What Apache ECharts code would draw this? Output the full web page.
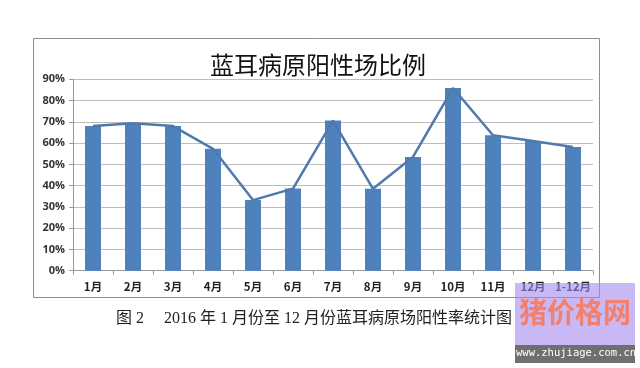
<!DOCTYPE html>
<html>
<head>
<meta charset="utf-8">
<script src="https://cdn.jsdelivr.net/npm/echarts@6/dist/echarts.min.js"></script>
<style>
html,body{margin:0;padding:0;background:#fff;}
#c{width:640px;height:368px;}
</style>
</head>
<body>
<div id="c"></div>
<script>
var categories = ['1月','2月','3月','4月','5月','6月','7月','8月','9月','10月','11月','12月','1-12月'];
var barValues = [68, 69.3, 68, 57.3, 33.2, 38.6, 70.6, 38.5, 53.5, 85.9, 63.7, 61, 58.2];
var lineValues = [68, 69.3, 68, 57.3, 33.2, 38.6, 70.6, 38.5, 53.5, 85.9, 63.7, 61, 58.2];
var yTicks = [0,10,20,30,40,50,60,70,80,90];
var titleText = '蓝耳病原阳性场比例';
var captionText = '图 2\u3000 2016 年 1 月份至 12 月份蓝耳病原场阳性率统计图';

var chart = echarts.init(document.getElementById('c'), null, {renderer:'canvas'});
chart.setOption({
  animation:false,
  backgroundColor:'#fff',
  title:{
    text:titleText, left:313, top:48, textAlign:'center',
    textStyle:{fontFamily:'Noto Sans CJK SC', fontSize:24, fontWeight:'normal', color:'#111'}
  },
  grid:{left:73, right:47, top:79.3, bottom:97.3},
  xAxis:{
    type:'category', data:categories, boundaryGap:true,
    axisLine:{show:true, lineStyle:{color:'#999', width:1}},
    axisTick:{show:true, alignWithLabel:false, length:4, inside:false, lineStyle:{color:'#999'}},
    axisLabel:{margin:10, fontFamily:'Noto Sans CJK SC', fontWeight:'bold', fontSize:11.5, color:'#222', interval:0}
  },
  yAxis:{
    type:'value', min:yTicks[0], max:yTicks[yTicks.length-1], interval:10,
    axisLine:{show:true, lineStyle:{color:'#999', width:1}},
    axisTick:{show:true, length:4, lineStyle:{color:'#999'}},
    splitLine:{show:true, lineStyle:{color:'#bdbdbd', width:1}},
    axisLabel:{margin:8, formatter:'{value}%', fontFamily:'Open Sans', fontWeight:'bold', fontSize:11, color:'#333'}
  },
  series:[
    {type:'bar', data:barValues, barWidth:16, itemStyle:{color:'#4f81bd'}, z:2},
    {type:'line', data:lineValues, symbol:'none', lineStyle:{color:'#5079ad', width:2.5}, z:3}
  ],
  graphic:[
    {type:'rect', shape:{x:33.5, y:38.5, width:566, height:259}, style:{fill:'none', stroke:'#8c8c8c', lineWidth:1}, z:0, silent:true},
    {type:'text', left:116, top:311, style:{text:captionText, font:'16px "Liberation Serif", "Noto Sans CJK SC"', fill:'#222'}, z:5},
    {type:'rect', shape:{x:515, y:283, width:120, height:62}, style:{fill:'rgba(163,137,238,0.6)'}, z:10},
    {type:'text', left:519, top:298, style:{text:'猪价格网', font:'bold 28px "Noto Sans CJK SC"', fill:'#f4806c'}, z:11},
    {type:'rect', shape:{x:515, y:345, width:120, height:18}, style:{fill:'#6f6f6f'}, z:10},
    {type:'text', left:516, top:348, style:{text:'www.zhujiage.com.cn', font:'10.5px "DejaVu Sans Mono"', fill:'#fff'}, z:11}
  ]
});
</script>
</body>
</html>
